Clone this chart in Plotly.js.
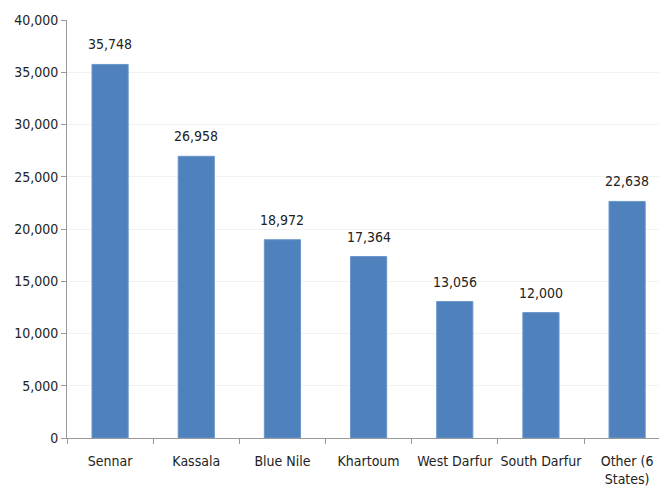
<!DOCTYPE html>
<html>
<head>
<meta charset="utf-8">
<script src="https://cdn.plot.ly/plotly-3.0.1.min.js"></script>
<style>html,body{margin:0;padding:0;overflow:hidden;background:#fff;}</style>
</head>
<body>
<div id="chart" style="width:659px;height:496px;"></div>
<script>
var categories = ["Sennar", "Kassala", "Blue Nile", "Khartoum", "West Darfur", "South Darfur", "Other (6<br>States)"];
var values = [35748, 26958, 18972, 17364, 13056, 12000, 22638];
var yTickVals = [0, 5000, 10000, 15000, 20000, 25000, 30000, 35000, 40000];

var FONT = "'DejaVu Sans Condensed', 'Liberation Sans Narrow', 'Arial Narrow', sans-serif";

var trace = {
  type: "bar",
  x: categories,
  y: values,
  width: 0.42,
  marker: {color: "#4f81bd", line: {color: "#6a96cc", width: 1}},
  hoverinfo: "none"
};

var annotations = categories.map(function (c, i) {
  return {
    x: c, y: values[i], xref: "x", yref: "y",
    text: values[i].toLocaleString("en-US"),
    showarrow: false, yanchor: "bottom", yshift: 10,
    font: {family: FONT, size: 14, color: "#222"}
  };
});

var layout = {
  width: 659,
  height: 496,
  margin: {l: 67, r: 0, t: 20, b: 58},
  paper_bgcolor: "#fff",
  plot_bgcolor: "#fff",
  showlegend: false,
  font: {family: FONT, size: 14, color: "#222"},
  annotations: annotations,
  xaxis: {
    type: "category",
    range: [-0.5, 6.37],
    showline: true,
    linecolor: "#999",
    linewidth: 1,
    ticks: "outside",
    tickson: "boundaries",
    ticklen: 5,
    tickcolor: "#999",
    tickangle: 0,
    ticklabelstandoff: 10,
    showgrid: false,
    tickfont: {family: FONT, size: 14, color: "#222"}
  },
  yaxis: {
    range: [0, 40000],
    tickvals: yTickVals,
    tickformat: ",d",
    showline: true,
    linecolor: "#999",
    linewidth: 1,
    ticks: "outside",
    ticklen: 5,
    tickcolor: "#999",
    showgrid: true,
    gridcolor: "#f2f2f2",
    zeroline: false,
    tickfont: {family: FONT, size: 14, color: "#222"}
  }
};

Plotly.newPlot("chart", [trace], layout, {staticPlot: true, displayModeBar: false});
</script>
</body>
</html>
